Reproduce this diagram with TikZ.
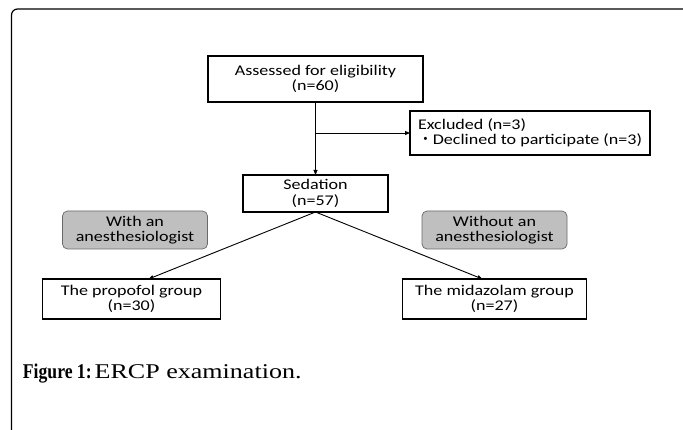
\documentclass[tikz,border=0pt]{standalone}
\usepackage{fontspec}
\setsansfont{Carlito}[FakeStretch=1.22]
\newfontfamily\capfont{Liberation Serif}[FakeStretch=1.24]
\newfontfamily\capbold{Liberation Serif}[FakeStretch=0.84]
\newfontfamily\cjk{Noto Sans CJK JP}
\usetikzlibrary{arrows.meta,positioning,calc}
\definecolor{tagfill}{RGB}{191,191,191}
\definecolor{tagline}{RGB}{105,105,105}

\begin{document}
\begin{tikzpicture}[
    x=1pt, y=-1pt,
    box/.style={draw, line width=1.3pt, align=center, inner sep=0pt, outer sep=0pt},
    tag/.style={draw=tagline, fill=tagfill, line width=0.7pt, rounded corners=5pt,
        minimum width=145pt, minimum height=38pt, align=center, inner sep=0pt, outer sep=0pt},
    ->, >={Triangle[length=5pt,width=4pt]}, line width=0.9pt,
    font=\sffamily\fontsize{14.8}{15.5}\selectfont
]
\useasboundingbox (0,0) rectangle (683,430);

% Frame
\draw[-, line width=1.2pt, rounded corners=6pt] (700,9) -- (11.5,9) -- (11.5,450);

% Nodes
\node[box, minimum width=215pt, minimum height=46pt] (assess) at (315.5,79) {Assessed for eligibility\\(n=60)};
\node[box, below=73pt of assess, minimum width=145pt, minimum height=37pt] (sed) {Sedation\\(n=57)};
\coordinate[below=31pt of assess] (branch);
\node[box, right=94.5pt of branch, align=left, inner xsep=8pt, minimum height=44pt] (excl) {Excluded (n=3)\\{\cjk ・}Declined to participate (n=3)};
\node[box, below left=67pt and 95pt of sed.south, minimum width=178pt, minimum height=40pt] (prop) {The propofol group\\(n=30)};
\node[box, below right=67pt and 87pt of sed.south, minimum width=184pt, minimum height=40pt] (mida) {The midazolam group\\(n=27)};
\node[tag, above=30pt of prop, xshift=3.5pt] (with) {With an\\anesthesiologist};
\node[tag, above=30pt of mida] (without) {Without an\\anesthesiologist};
\node[anchor=base west, inner sep=0pt, font=\fontsize{21}{24}\selectfont] (caption) at (22.5,378)
    {{\capbold\bfseries Figure 1:\hspace{3pt}}{\capfont ERCP examination.}};

% Arrows
\draw (assess) -- (sed);
\draw (branch) -- (excl);
\draw (sed.south) -- ([xshift=17pt]prop.north);
\draw (sed.south) -- ([xshift=-12pt]mida.north);

\end{tikzpicture}
\end{document}
